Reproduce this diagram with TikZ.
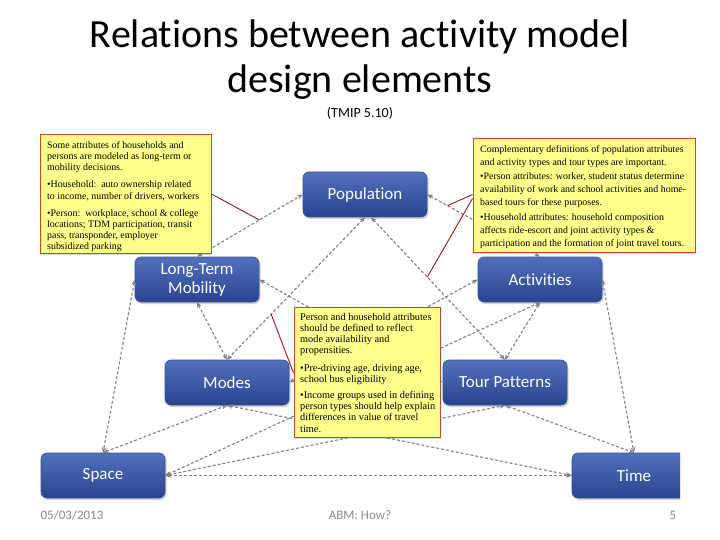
\documentclass[tikz,border=0pt]{standalone}
\usepackage{fontspec}
\setmainfont{Liberation Serif}
\newfontfamily\calfont[Ligatures=NoCommon]{Carlito}
\usetikzlibrary{arrows.meta,calc,shadows}
\definecolor{boxtop}{RGB}{82,112,188}
\definecolor{boxbot}{RGB}{40,68,142}
\definecolor{boxedge}{RGB}{55,80,150}
\definecolor{noteyellow}{RGB}{255,255,140}
\definecolor{noteedge}{RGB}{195,75,40}
\definecolor{calloutred}{RGB}{165,20,30}
\definecolor{linkgray}{RGB}{128,128,128}
\definecolor{footgray}{RGB}{137,137,137}
\begin{document}
\begin{tikzpicture}[x=1pt,y=-1pt,
  bluebox/.style={rounded corners=6pt, top color=boxtop, bottom color=boxbot,
    draw=boxedge, line width=0.6pt, minimum width=124pt, minimum height=45pt,
    text=white, font=\calfont\fontsize{17}{19}\selectfont, align=center, inner sep=2pt,
    drop shadow={shadow xshift=1.5pt, shadow yshift=-2pt, opacity=0.35}},
  notebox/.style={draw=noteedge, fill=noteyellow, line width=1pt, inner sep=0pt,
    drop shadow={shadow xshift=1pt, shadow yshift=-1.5pt, opacity=0.3}},
  notetext/.style={align=left, inner sep=0pt, anchor=north west},
  link/.style={draw=linkgray, line width=1.1pt, dash pattern=on 3pt off 2pt,
    {Stealth[length=5.5pt,width=4.5pt]}-{Stealth[length=5.5pt,width=4.5pt]}},
  callout/.style={draw=calloutred, line width=0.9pt},
  foot/.style={text=footgray, font=\calfont\fontsize{13}{15}\selectfont, anchor=base}
]
\useasboundingbox (0,0) rectangle (720,540);
\fill[white] (0,0) rectangle (720,540);

% title
\node[anchor=base, font=\calfont\fontsize{40}{48}\selectfont] (title1) at (360,48) {Relations between activity model};
\node[anchor=base, font=\calfont\fontsize{40}{48}\selectfont] (title2) at (360,93) {design elements};
\node[anchor=base, font=\calfont\fontsize{14}{16}\selectfont] (sub) at (360,118) {(TMIP 5.10)};

% blue boxes
\node[bluebox] (pop) at (365,194.5) {Population};
\node[bluebox] (ltm) at (197,279.5) {Long-Term\\Mobility};
\node[bluebox] (act) at (540,279.5) {Activities};
\node[bluebox] (modes) at (227,382.5) {Modes};
\node[bluebox] (tour) at (505,382.5) {Tour Patterns};
\node[bluebox] (space) at (103,475.5) {Space};
\begin{scope}
  \clip (0,0) rectangle (680,540);
  \node[bluebox] (time) at (634,475.5) {Time};
\end{scope}

% connectors
\draw[link] (ltm.north) -- (pop.west);
\draw[link] (pop.south) -- (modes.north);
\draw[link] ([xshift=6pt]pop.south) -- (tour.north);
\draw[link] (pop.east) -- (act.north);
\draw[link] (ltm.east) -- (tour.west);
\draw[link] (ltm.south) -- (modes.north);
\draw[link] (ltm.west) -- (space.north);
\draw[link] (act.west) -- (modes.east);
\draw[link] (act.south) -- (tour.north);
\draw[link] (act.east) -- (time.north);
\draw[link] (space.north) -- (modes.south);
\draw[link] (space.east) -- (act.south);
\draw[link] (space.east) -- (tour.south);
\draw[link] (space.east) -- (time.west);
\draw[link] (modes.south) -- (time.west);
\draw[link] (tour.south) -- (time.north);

% yellow notes
\node[notebox, minimum width=171pt, minimum height=118pt] (tl) at (125.5,194) {};
\node[notetext, font=\fontsize{9.9}{11.3}\selectfont] (tltext) at (47,141) {Some attributes of households and\\
persons are modeled as long-term or\\
mobility decisions.\\[5.7pt]
•Household:\ \ auto ownership related\\
to income, number of drivers, workers\\[5.7pt]
•Person:\ \ workplace, school \& college\\
locations; TDM participation, transit\\
pass, transponder, employer\\
subsidized parking};

\node[notebox, minimum width=222pt, minimum height=113pt] (tr) at (584,195.5) {};
\node[notetext, font=\fontsize{9.9}{13.2}\selectfont] (trtext) at (480,145) {Complementary definitions of population attributes\\
and activity types and tour types are important.\\[1pt]
•Person attributes: worker, student status determine\\
availability of work and school activities and home-\\
based tours for these purposes.\\[1pt]
•Household attributes: household composition\\
affects ride-escort and joint activity types \&\\
participation and the formation of joint travel tours.};

\node[notebox, minimum width=146pt, minimum height=130pt] (mid) at (367,372) {};
\node[notetext, font=\fontsize{10.3}{11.2}\selectfont] (midtext) at (300,313) {Person and household attributes\\
should be defined to reflect\\
mode availability and\\
propensities.\\[6.5pt]
•Pre-driving age, driving age,\\
school bus eligibility\\[4.5pt]
•Income groups used in defining\\
person types should help explain\\
differences in value of travel\\
time.};

% callouts
\draw[callout] (tl.east) -- ($(ltm.north)!0.59!(pop.west)$);
\draw[callout] ([yshift=1pt]tr.west) -- ($(pop.east)!0.18!(act.north)$);
\draw[callout] ([yshift=-3pt]tr.west) -- ($([xshift=6pt]pop.south)!0.42!(tour.north)$);
\draw[callout] ([yshift=-1pt]mid.west) -- ($(pop.south)!0.68!(modes.north)$);

% footer
\node[foot] (date) at (72,519) {05/03/2013};
\node[foot] (abm) at (360,519) {ABM: How?};
\node[foot] (page) at (673,519) {5};
\end{tikzpicture}
\end{document}
